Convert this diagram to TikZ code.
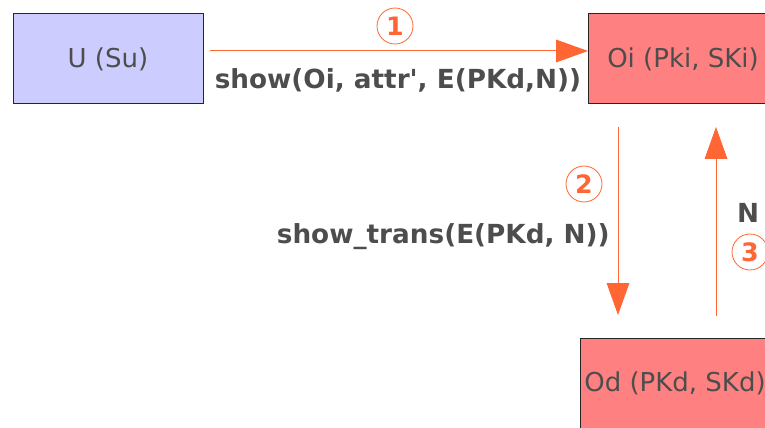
\documentclass[tikz,border=0pt]{standalone}
\usepackage{fontspec}
\setmainfont{DejaVu Sans}
\usetikzlibrary{arrows.meta}
\definecolor{ora}{HTML}{FF6633}
\definecolor{txt}{HTML}{4D4D4D}
\definecolor{blu}{HTML}{CCCCFF}
\definecolor{pnk}{HTML}{FF8080}
\begin{document}
\begin{tikzpicture}[x=0.75pt,y=-0.75pt,
  box/.style={draw=black!85,line width=0.75pt,minimum width=142.5pt,minimum height=67.5pt,inner sep=0pt,text=txt,font=\fontsize{19.5pt}{22pt}\selectfont},
  msg/.style={text=txt,font=\bfseries\fontsize{19.7pt}{22pt}\selectfont,inner sep=0pt},
  num/.style={circle,draw=ora,line width=0.6pt,minimum size=27pt,inner sep=0pt,text=ora,font=\bfseries\fontsize{19pt}{22pt}\selectfont},
  flow/.style={draw=ora,line width=0.75pt,-{Triangle[length=24pt,width=17pt]}}]
\useasboundingbox (0,0) rectangle (765,428);
\begin{scope}
\clip (0,0) rectangle (765,428);
\node[box,fill=blu] (U) at (108,59) {U (Su)};
\node[box,fill=pnk] (Oi) at (683,59) {Oi (Pki, SKi)};
\node[box,fill=pnk] (Od) at (675,383) {Od (PKd, SKd)};
\coordinate (a1s) at (210,51);
\coordinate (a1e) at (588,51);
\coordinate (a2s) at (618,127);
\coordinate (a2e) at (618,315);
\coordinate (a3s) at (716,316);
\coordinate (a3e) at (716,127);
\draw[flow] (a1s) -- (a1e);
\draw[flow] (a2s) -- (a2e);
\draw[flow] (a3s) -- (a3e);
\node[num] (n1) at (395,26) {1};
\node[num] (n2) at (584,184) {2};
\node[num] (n3) at (750,252) {3};
\node[msg] (m1) at (398,80) {show(Oi, attr\textquotesingle, E(PKd,N))};
\node[msg,anchor=east] (m2) at (610,237) {show\_trans(E(PKd, N))};
\node[msg] (m3) at (748,213) {N};
\end{scope}
\end{tikzpicture}
\end{document}
